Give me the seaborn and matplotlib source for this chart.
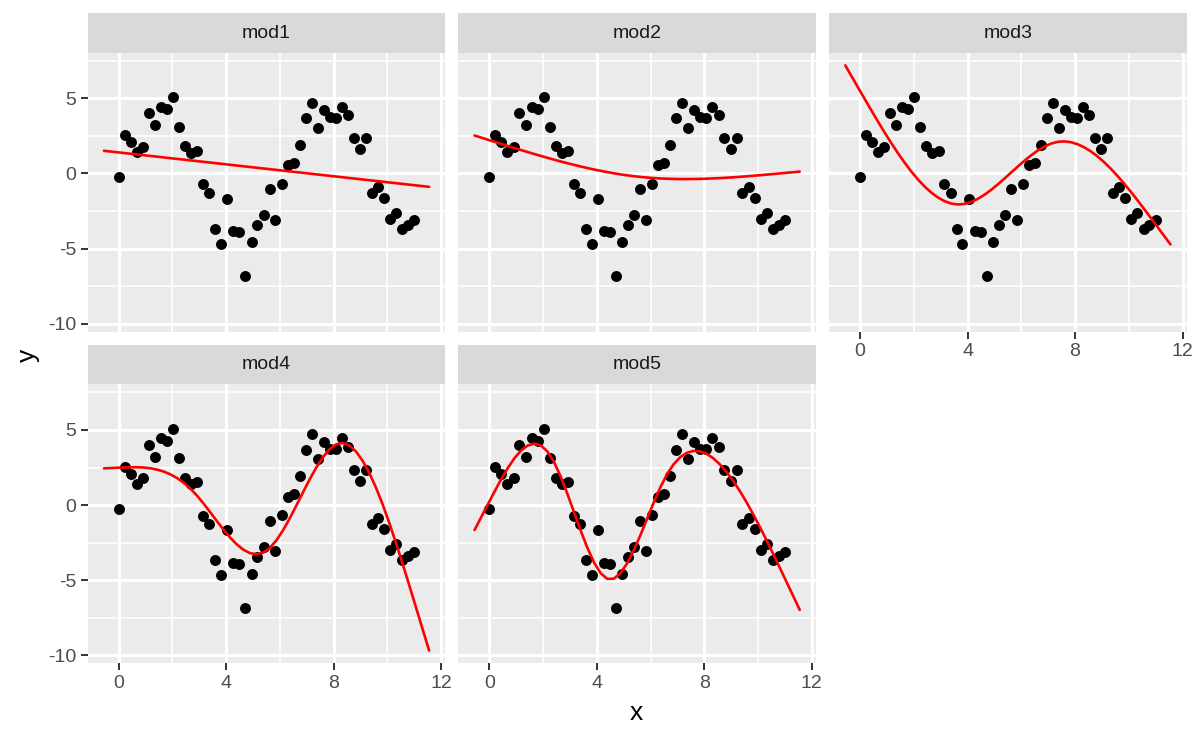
import numpy as np
import pandas as pd
import matplotlib
matplotlib.use("Agg")
import matplotlib.pyplot as plt
import seaborn as sns

# simulated points (same 50 points in every panel)
x_vals = [0.00, 0.22, 0.45, 0.67, 0.90, 1.12, 1.35, 1.57, 1.80, 2.02,
          2.24, 2.47, 2.69, 2.92, 3.14, 3.37, 3.59, 3.81, 4.04, 4.26,
          4.49, 4.71, 4.94, 5.16, 5.39, 5.61, 5.83, 6.06, 6.28, 6.51,
          6.73, 6.96, 7.18, 7.41, 7.63, 7.85, 8.08, 8.30, 8.53, 8.75,
          8.98, 9.20, 9.42, 9.65, 9.87, 10.10, 10.32, 10.55, 10.77, 11.00]
y_vals = [-0.25, 2.53, 2.09, 1.42, 1.78, 4.00, 3.22, 4.44, 4.27, 5.09,
          3.11, 1.82, 1.38, 1.51, -0.73, -1.29, -3.67, -4.69, -1.69, -3.84,
          -3.91, -6.84, -4.58, -3.44, -2.78, -1.04, -3.07, -0.69, 0.55, 0.71,
          1.91, 3.67, 4.71, 3.04, 4.22, 3.76, 3.71, 4.44, 3.87, 2.36,
          1.60, 2.36, -1.29, -0.89, -1.62, -3.02, -2.62, -3.67, -3.40, -3.11]

models = ["mod1", "mod2", "mod3", "mod4", "mod5"]
spline_df = [1, 2, 3, 4, 5]
x_ticks = [0, 4, 8, 12]
y_ticks = [-10, -5, 0, 5]

sim = pd.DataFrame({"x": x_vals, "y": y_vals})


def ns_basis(x, knots):
    # natural cubic spline basis (linear outside the boundary knots)
    K = len(knots)

    def d(k):
        return (np.clip(x - knots[k], 0, None) ** 3
                - np.clip(x - knots[-1], 0, None) ** 3) / (knots[-1] - knots[k])

    cols = [np.ones_like(x), x]
    for k in range(K - 2):
        cols.append(d(k) - d(K - 2))
    return np.column_stack(cols)


# prediction grid, range of x expanded by 10%
xs = sim.x.values
lo, hi = xs.min(), xs.max()
grid = np.linspace(lo - 0.05 * (hi - lo), hi + 0.05 * (hi - lo), 50)

preds = []
for name, df in zip(models, spline_df):
    knots = np.quantile(xs, np.linspace(0, 1, df + 1))
    coef, *_ = np.linalg.lstsq(ns_basis(xs, knots), sim.y.values, rcond=None)
    preds.append(pd.DataFrame({"x": grid, "pred": ns_basis(grid, knots) @ coef, "model": name}))
pred = pd.concat(preds, ignore_index=True)

sns.set_theme(style="darkgrid")
plt.rcParams["font.family"] = ["Liberation Sans", "DejaVu Sans"]
plt.rcParams["axes.unicode_minus"] = False

W, H = 1200, 741
fig = plt.figure(figsize=(W / 100, H / 100), dpi=100)

# panel geometry in pixels
lefts = [87.7, 458.3, 829.0]
pw = 357.7
tops = [52.7, 384.3]
ph = 279.0
sh = 39.4

# shared scales like ggplot (5% expansion)
xr = (grid.min(), grid.max())
xpad = 0.05 * (xr[1] - xr[0])
allv = np.concatenate([sim.y.values, pred.pred.values])
yr = (allv.min(), allv.max())
ypad = 0.05 * (yr[1] - yr[0])

for i, name in enumerate(models):
    r, c = divmod(i, 3)
    left = lefts[c] / W
    bottom = 1 - (tops[r] + ph) / H
    ax = fig.add_axes([left, bottom, pw / W, ph / H])
    ax.set_facecolor("#EBEBEB")
    for s in ax.spines.values():
        s.set_visible(False)

    sns.scatterplot(data=sim, x="x", y="y", ax=ax, color="black", s=62,
                    linewidth=0, zorder=3)
    sns.lineplot(data=pred[pred.model == name], x="x", y="pred", ax=ax,
                 color="red", linewidth=1.9, zorder=4)

    ax.set_xlim(xr[0] - xpad, xr[1] + xpad)
    ax.set_ylim(yr[0] - ypad, yr[1] + ypad)
    ax.set_xticks(x_ticks)
    ax.set_yticks(y_ticks)
    ax.set_xticks([2, 6, 10], minor=True)
    ax.set_yticks([-7.5, -2.5, 2.5, 7.5], minor=True)
    ax.grid(which="major", color="white", linewidth=2.3)
    ax.grid(which="minor", color="white", linewidth=1.2)
    ax.tick_params(which="minor", length=0)
    ax.tick_params(which="major", length=4.7, width=1.4, color="#333333",
                   labelsize=14, labelcolor="#4D4D4D", pad=3.5,
                   bottom=True, left=True)
    ax.set_xlabel("")
    ax.set_ylabel("")
    if c != 0:
        ax.tick_params(axis="y", left=False, labelleft=False)
    if i in (0, 1):
        ax.tick_params(axis="x", bottom=False, labelbottom=False)

    # strip
    sax = fig.add_axes([left, 1 - tops[r] / H, pw / W, sh / H])
    sax.set_facecolor("#D9D9D9")
    sax.set_xticks([])
    sax.set_yticks([])
    sax.grid(False)
    for s in sax.spines.values():
        s.set_visible(False)
    sax.text(0.5, 0.5, name, ha="center", va="center", fontsize=14,
             color="#1A1A1A", transform=sax.transAxes)

fig.text(636.7 / W, 1 - 713 / H, "x", ha="center", va="center", fontsize=19, color="black")
fig.text(28 / W, 1 - 355 / H, "y", ha="center", va="center", fontsize=19,
         rotation=90, color="black")

fig.savefig("out.png", dpi=100, facecolor="white")
